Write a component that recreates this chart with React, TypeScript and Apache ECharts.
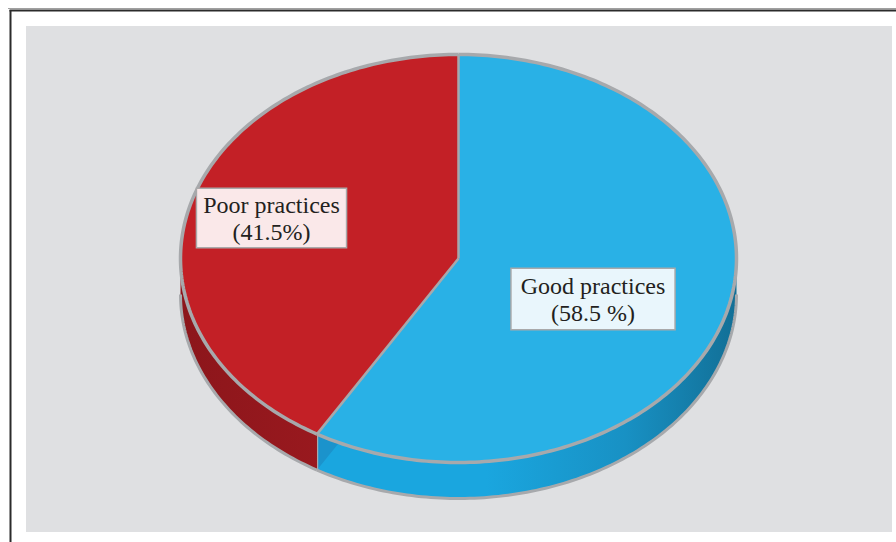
import React, { useEffect, useRef } from "react";
import * as echarts from "echarts";

// ---- data ----
const categories = ["Good practices", "Poor practices"];
const values = [58.5, 41.5];
const labelTexts = ["Good practices\n(58.5 %)", "Poor practices\n(41.5%)"];

// ---- geometry / style (not data) ----
const CX = 458.5;
const CY = 258.5;
const RX = 278;
const RY = 204;
const DEPTH = 36;
const EDGE = "#A7A9AC";
const topColors = ["#29B1E6", "#C32026"];
const sideStops = [
  [
    { offset: 0, color: "#1aa6df" },
    { offset: 0.55, color: "#1aa6df" },
    { offset: 0.8, color: "#1891c4" },
    { offset: 1, color: "#126f96" },
  ],
  [
    { offset: 0, color: "#8c161b" },
    { offset: 0.45, color: "#a31b21" },
    { offset: 1, color: "#a31b21" },
  ],
];
const labelBoxes = [
  { x: 593, y: 299, bg: "#E9F6FC", pad: [3, 9, 3, 9] },
  { x: 271.5, y: 218, bg: "#FAE8E9", pad: [2, 6, 2, 6] },
];

function pt(theta: number, dy = 0): number[] {
  const r = (theta * Math.PI) / 180;
  return [CX + RX * Math.sin(r), CY - RY * Math.cos(r) + dy];
}
function arc(a: number, b: number, dy = 0): number[][] {
  const pts: number[][] = [];
  const n = Math.max(2, Math.ceil(Math.abs(b - a)));
  for (let i = 0; i <= n; i++) pts.push(pt(a + ((b - a) * i) / n, dy));
  return pts;
}
function angles(i: number): number[] {
  const total = values.reduce((s, v) => s + v, 0);
  let start = 0;
  for (let k = 0; k < i; k++) start += (values[k] / total) * 360;
  return [start, start + (values[i] / total) * 360];
}

export default function App() {
  const ref = useRef<HTMLDivElement>(null);
  useEffect(() => {
    if (!ref.current) return;
    const chart = echarts.init(ref.current, null, { renderer: "svg" });
    const data = values.map((v, i) => ({ value: v, name: categories[i] }));

    const sideItem = (params: any) => {
      const i = params.dataIndex;
      const [a, b] = angles(i);
      const lo = Math.max(a, 90);
      const hi = Math.min(b, 270);
      const children: any[] = [];
      if (lo < hi) {
        const pts = arc(lo, hi).concat(arc(hi, lo, DEPTH));
        children.push({
          type: "polygon",
          shape: { points: pts },
          style: {
            fill: new echarts.graphic.LinearGradient(CX - RX, 0, CX + RX, 0, sideStops[i], true),
          },
        });
        children.push({
          type: "polyline",
          shape: { points: arc(lo, hi, DEPTH) },
          style: { stroke: EDGE, lineWidth: 3, fill: "none" },
        });
      }
      if (b > 90 && b < 270 && i < values.length - 1) {
        const p = pt(b);
        const q = pt(b, DEPTH);
        children.push({
          type: "polygon",
          shape: { points: [[CX, CY], p, q, [CX, CY + DEPTH]] },
          style: { fill: "#1b93cc" },
        });
        children.push({
          type: "line",
          shape: { x1: p[0], y1: p[1], x2: q[0], y2: q[1] },
          style: { stroke: EDGE, lineWidth: 2.5 },
        });
      }
      return { type: "group", children };
    };

    const topItem = (params: any) => {
      const i = params.dataIndex;
      const [a, b] = angles(i);
      return {
        type: "polygon",
        shape: { points: [[CX, CY]].concat(arc(a, b)) },
        style: { fill: topColors[i] },
      };
    };

    const edgeItem = (params: any) => {
      const i = params.dataIndex;
      const [a, b] = angles(i);
      const p = pt(a);
      return {
        type: "group",
        children: [
          {
            type: "polyline",
            shape: { points: arc(a, b) },
            style: { stroke: EDGE, lineWidth: 3.5, fill: "none" },
          },
          {
            type: "line",
            shape: { x1: CX, y1: CY, x2: p[0], y2: p[1] },
            style: { stroke: EDGE, lineWidth: 2.5 },
          },
        ],
      };
    };

    const labelItem = (params: any) => {
      const i = params.dataIndex;
      const box = labelBoxes[i];
      return {
        type: "text",
        style: {
          text: labelTexts[i],
          x: box.x,
          y: box.y,
          align: "center",
          verticalAlign: "middle",
          font: '24px "Liberation Serif", "Times New Roman", serif',
          lineHeight: 27,
          fill: "#231F20",
          backgroundColor: box.bg,
          borderColor: "#A9A9AA",
          borderWidth: 1.5,
          padding: box.pad,
        },
      };
    };

    chart.setOption({
      animation: false,
      graphic: {
        elements: [
          {
            type: "rect",
            z: 0,
            shape: { x: 26, y: 26, width: 866, height: 506 },
            style: { fill: "#DFE0E2" },
          },
          {
            type: "line",
            z: 0,
            shape: { x1: 8, y1: 8.5, x2: 896, y2: 8.5 },
            style: { stroke: "#A0A0A0", lineWidth: 1 },
          },
          {
            type: "line",
            z: 0,
            shape: { x1: 9.5, y1: 10.5, x2: 896, y2: 10.5 },
            style: { stroke: "#2b2b2b", lineWidth: 2 },
          },
          {
            type: "line",
            z: 0,
            shape: { x1: 10.5, y1: 10, x2: 10.5, y2: 542 },
            style: { stroke: "#2b2b2b", lineWidth: 2 },
          },
        ],
      },
      series: [
        { type: "custom", coordinateSystem: "none", z: 10, data, renderItem: sideItem, silent: true },
        { type: "custom", coordinateSystem: "none", z: 11, data, renderItem: topItem, silent: true },
        { type: "custom", coordinateSystem: "none", z: 12, data, renderItem: edgeItem, silent: true },
        { type: "custom", coordinateSystem: "none", z: 13, data, renderItem: labelItem, silent: true },
      ],
    });
    return () => chart.dispose();
  }, []);
  return (
    <div
      ref={ref}
      style={{ position: "fixed", left: 0, top: 0, width: 896, height: 542, background: "#ffffff" }}
    />
  );
}
